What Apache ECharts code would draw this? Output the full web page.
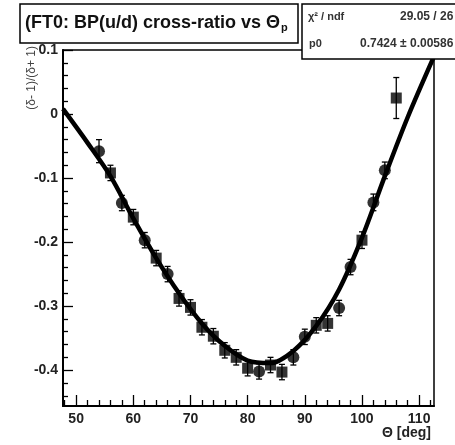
<!DOCTYPE html>
<html>
<head>
<meta charset="utf-8">
<script src="https://cdn.jsdelivr.net/npm/echarts@6/dist/echarts.min.js"></script>
<style>
  html, body { margin: 0; padding: 0; background: #fff; }
  #chart { width: 455px; height: 445px; }
</style>
</head>
<body>
<div id="chart"></div>
<script>
// measured cross-ratio points (theta in deg)
const thetas = [54, 56, 58, 60, 62, 64, 66, 68, 70, 72, 74, 76, 78, 80, 82, 84, 86, 88, 90, 92, 94, 96, 98, 100, 102, 104, 106];
const ratios = [-0.058, -0.092, -0.139, -0.161, -0.197, -0.225, -0.250, -0.288, -0.302, -0.333, -0.347, -0.369, -0.380, -0.397, -0.402, -0.392, -0.403, -0.380, -0.348, -0.330, -0.327, -0.303, -0.239, -0.197, -0.138, -0.088, 0.025];
const ratioErrs = [0.018, 0.012, 0.012, 0.012, 0.012, 0.012, 0.012, 0.012, 0.012, 0.012, 0.012, 0.012, 0.012, 0.012, 0.012, 0.012, 0.012, 0.012, 0.012, 0.012, 0.012, 0.012, 0.012, 0.013, 0.013, 0.013, 0.032];
// which points are drawn as circles (rest are squares)
const circleIdx = [0, 2, 4, 6, 14, 17, 18, 21, 22, 24, 25];

// fit curve
const fitThetas = [47.7, 52, 56, 60, 64, 68, 72, 76, 80, 84, 88, 92, 96, 100, 104, 108, 112.6];
const fitRatios = [0.008, -0.045, -0.097, -0.163, -0.225, -0.280, -0.327, -0.362, -0.385, -0.389, -0.370, -0.331, -0.274, -0.193, -0.097, -0.005, 0.090];

// axis ticks
const xMajor = [50, 60, 70, 80, 90, 100, 110];
const xMinor = [48, 52, 54, 56, 58, 62, 64, 66, 68, 72, 74, 76, 78, 82, 84, 86, 88, 92, 94, 96, 98, 102, 104, 106, 108, 112];
const yMajor = [-0.4, -0.3, -0.2, -0.1, 0, 0.1];
const yMinor = [-0.44, -0.42, -0.38, -0.36, -0.34, -0.32, -0.28, -0.26, -0.24, -0.22, -0.18, -0.16, -0.14, -0.12, -0.08, -0.06, -0.04, -0.02, 0.02, 0.04, 0.06, 0.08];

const X_MIN = 47.7, X_MAX = 112.6, Y_MIN = -0.456, Y_MAX = 0.1;
const FONT = 'Liberation Sans';

const chart = echarts.init(document.getElementById('chart'));

const pts = thetas.map((t, i) => [t, ratios[i], ratioErrs[i]]);
const fit = fitThetas.map((t, i) => [t, fitRatios[i]]);

const labelStyle = { color: '#222', fontSize: 14, fontWeight: 'bold', fontFamily: FONT };
const tickLine = { color: '#000', width: 1.3 };

chart.setOption({
  animation: false,
  backgroundColor: '#fff',
  grid: { left: 63, top: 50, width: 371, height: 356, show: true, borderColor: '#000', borderWidth: 1.5 },
  title: {
    text: '{t|(FT0: BP(u/d) cross-ratio vs Θ}{s|p}',
    left: 25, top: 13, padding: 0,
    textStyle: {
      rich: {
        t: { fontSize: 18, fontWeight: 'bold', fontFamily: FONT, color: '#111' },
        s: { fontSize: 11, fontWeight: 'bold', fontFamily: FONT, color: '#111', padding: [9, 0, 0, 1] }
      }
    }
  },
  xAxis: [
    {
      type: 'value', min: X_MIN, max: X_MAX, position: 'bottom',
      axisLine: { show: true, onZero: false, lineStyle: { color: '#000', width: 2 } },
      axisTick: { show: true, inside: true, length: 11, customValues: xMajor, lineStyle: tickLine },
      axisLabel: Object.assign({ customValues: xMajor, margin: 6 }, labelStyle),
      splitLine: { show: false }
    },
    {
      type: 'value', min: X_MIN, max: X_MAX, position: 'bottom',
      axisLine: { show: false, onZero: false },
      axisTick: { show: true, inside: true, length: 6, customValues: xMinor, lineStyle: tickLine },
      axisLabel: { show: false },
      splitLine: { show: false }
    }
  ],
  yAxis: [
    {
      type: 'value', min: Y_MIN, max: Y_MAX, position: 'left',
      axisLine: { show: true, onZero: false, lineStyle: { color: '#000', width: 2 } },
      axisTick: { show: true, inside: true, length: 10, customValues: yMajor, lineStyle: tickLine },
      axisLabel: Object.assign({
        customValues: yMajor, margin: 5,
        formatter: v => (Math.abs(v) < 1e-9 ? '0' : String(Math.round(v * 10) / 10))
      }, labelStyle),
      splitLine: { show: false }
    },
    {
      type: 'value', min: Y_MIN, max: Y_MAX, position: 'left',
      axisLine: { show: false, onZero: false },
      axisTick: { show: true, inside: true, length: 5, customValues: yMinor, lineStyle: tickLine },
      axisLabel: { show: false },
      splitLine: { show: false }
    }
  ],
  series: [
    {
      name: 'errors',
      type: 'custom',
      data: pts,
      z: 3,
      renderItem: function (params, api) {
        const x = api.value(0), y = api.value(1), e = api.value(2);
        const hi = api.coord([x, y + e]);
        const lo = api.coord([x, y - e]);
        const cap = 3;
        const st = { stroke: '#000', lineWidth: 1.3 };
        return {
          type: 'group',
          children: [
            { type: 'line', shape: { x1: hi[0], y1: hi[1], x2: lo[0], y2: lo[1] }, style: st },
            { type: 'line', shape: { x1: hi[0] - cap, y1: hi[1], x2: hi[0] + cap, y2: hi[1] }, style: st },
            { type: 'line', shape: { x1: lo[0] - cap, y1: lo[1], x2: lo[0] + cap, y2: lo[1] }, style: st }
          ]
        };
      }
    },
    {
      name: 'data',
      type: 'scatter',
      data: pts,
      z: 4,
      symbol: (val, params) => (circleIdx.indexOf(params.dataIndex) >= 0 ? 'circle' : 'rect'),
      symbolSize: (val, params) => (circleIdx.indexOf(params.dataIndex) >= 0 ? 12 : 11),
      itemStyle: { color: '#000' }
    },
    {
      name: 'fit',
      type: 'line',
      data: fit,
      z: 5,
      smooth: 0.3,
      showSymbol: false,
      lineStyle: { color: '#000', width: 4.5 }
    }
  ],
  graphic: [
    // title box
    { type: 'rect', z: 1, shape: { x: 20, y: 4, width: 278, height: 39 }, style: { fill: '#fff', stroke: '#000', lineWidth: 1.5 } },
    // stats box
    { type: 'rect', z: 100, shape: { x: 302, y: 4, width: 160, height: 55 }, style: { fill: '#fff', stroke: '#000', lineWidth: 1.5 } },
    { type: 'text', z: 101, x: 308, y: 17, style: { text: 'χ² / ndf', font: 'bold 11px ' + FONT, fill: '#333', verticalAlign: 'middle' } },
    { type: 'text', z: 101, x: 400, y: 17, style: { text: '29.05 / 26', font: 'bold 12px ' + FONT, fill: '#333', verticalAlign: 'middle' } },
    { type: 'text', z: 101, x: 309, y: 44, style: { text: 'p0', font: 'bold 11px ' + FONT, fill: '#333', verticalAlign: 'middle' } },
    { type: 'text', z: 101, x: 360, y: 44, style: { text: '0.7424 ± 0.00586', font: 'bold 12px ' + FONT, fill: '#333', verticalAlign: 'middle' } },
    // axis titles
    { type: 'text', z: 6, x: 431, y: 433, style: { text: 'Θ [deg]', font: 'bold 14px ' + FONT, fill: '#222', align: 'right', verticalAlign: 'middle' } },
    { type: 'text', z: 6, x: 32, y: 46, rotation: Math.PI / 2, style: { text: '(δ- 1)/(δ+ 1)', font: '12px ' + FONT, fill: '#444', align: 'right', verticalAlign: 'middle' } }
  ]
});
</script>
</body>
</html>
